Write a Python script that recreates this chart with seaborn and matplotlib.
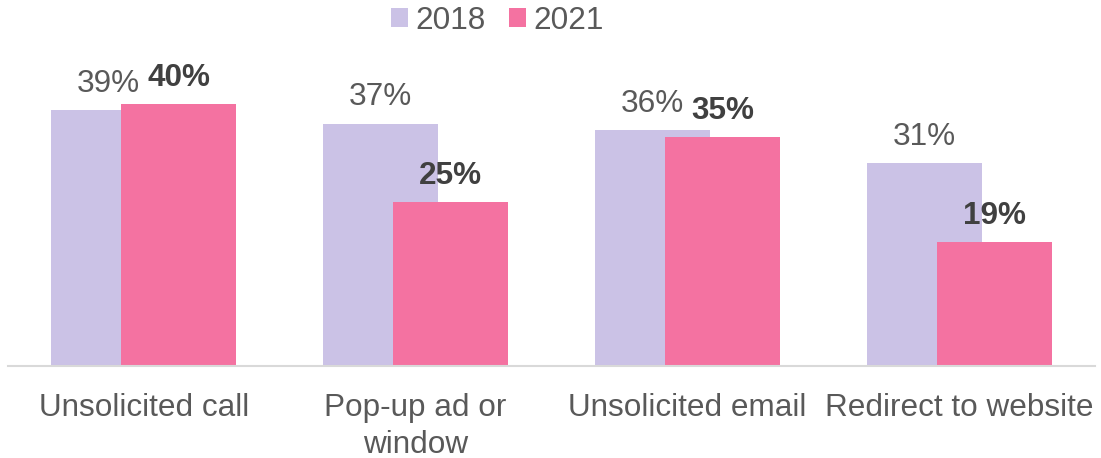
import pandas as pd
import matplotlib.pyplot as plt
import seaborn as sns
from matplotlib.patches import Patch

# data
categories = ["Unsolicited call", "Pop-up ad or\nwindow", "Unsolicited email", "Redirect to website"]
years = ["2018", "2021"]
values_2018 = [39, 37, 36, 31]
values_2021 = [40, 25, 35, 19]

colors = {"2018": "#CBC2E6", "2021": "#F472A1"}

df = pd.DataFrame({
    "category": categories * 2,
    "year": ["2018"] * len(categories) + ["2021"] * len(categories),
    "value": values_2018 + values_2021,
})

sns.set_theme(style="white")
plt.rcParams["font.family"] = ["Liberation Sans", "DejaVu Sans"]

fig = plt.figure(figsize=(11.01, 4.58), dpi=100)
ax = fig.add_axes([0.00727, 0.1998, 0.98728, 0.688])

sns.barplot(data=df, x="category", y="value", hue="year", hue_order=years,
            palette=colors, width=0.846, dodge=True, saturation=1,
            legend=False, ax=ax, errorbar=None)

# pull the two bars of each group together so they overlap
shift = 0.0825
for cont, sign in zip(ax.containers, [1, -1]):
    for p in cont:
        p.set_x(p.get_x() + sign * shift)
        p.set_linewidth(0)

ax.bar_label(ax.containers[0], labels=[f"{v}%" for v in values_2018],
             padding=8, fontsize=22.7, color="#595959")
ax.bar_label(ax.containers[1], labels=[f"{v}%" for v in values_2021],
             padding=8, fontsize=22.7, color="#404040", fontweight="bold")

ax.set_xlim(-0.5, 3.5)
ax.set_ylim(0, 48)
ax.set_xlabel("")
ax.set_ylabel("")
ax.set_yticks([])
ax.tick_params(axis="x", length=0, pad=19, labelsize=22.7, labelcolor="#595959")
for lab in ax.get_xticklabels():
    lab.set_linespacing(1.3)
for s in ["top", "left", "right"]:
    ax.spines[s].set_visible(False)
ax.spines["bottom"].set_color("#D9D9D9")
ax.spines["bottom"].set_linewidth(1.5)

handles = [Patch(facecolor=colors[y], edgecolor="none", label=y) for y in years]
fig.legend(handles=handles, loc="center", bbox_to_anchor=(0.452, 0.955), ncol=2,
           frameon=False, fontsize=22.7, labelcolor="#595959",
           handlelength=0.52, handleheight=0.52, handletextpad=0.25,
           columnspacing=0.75, borderpad=0)

fig.savefig("out.png", dpi=100)
